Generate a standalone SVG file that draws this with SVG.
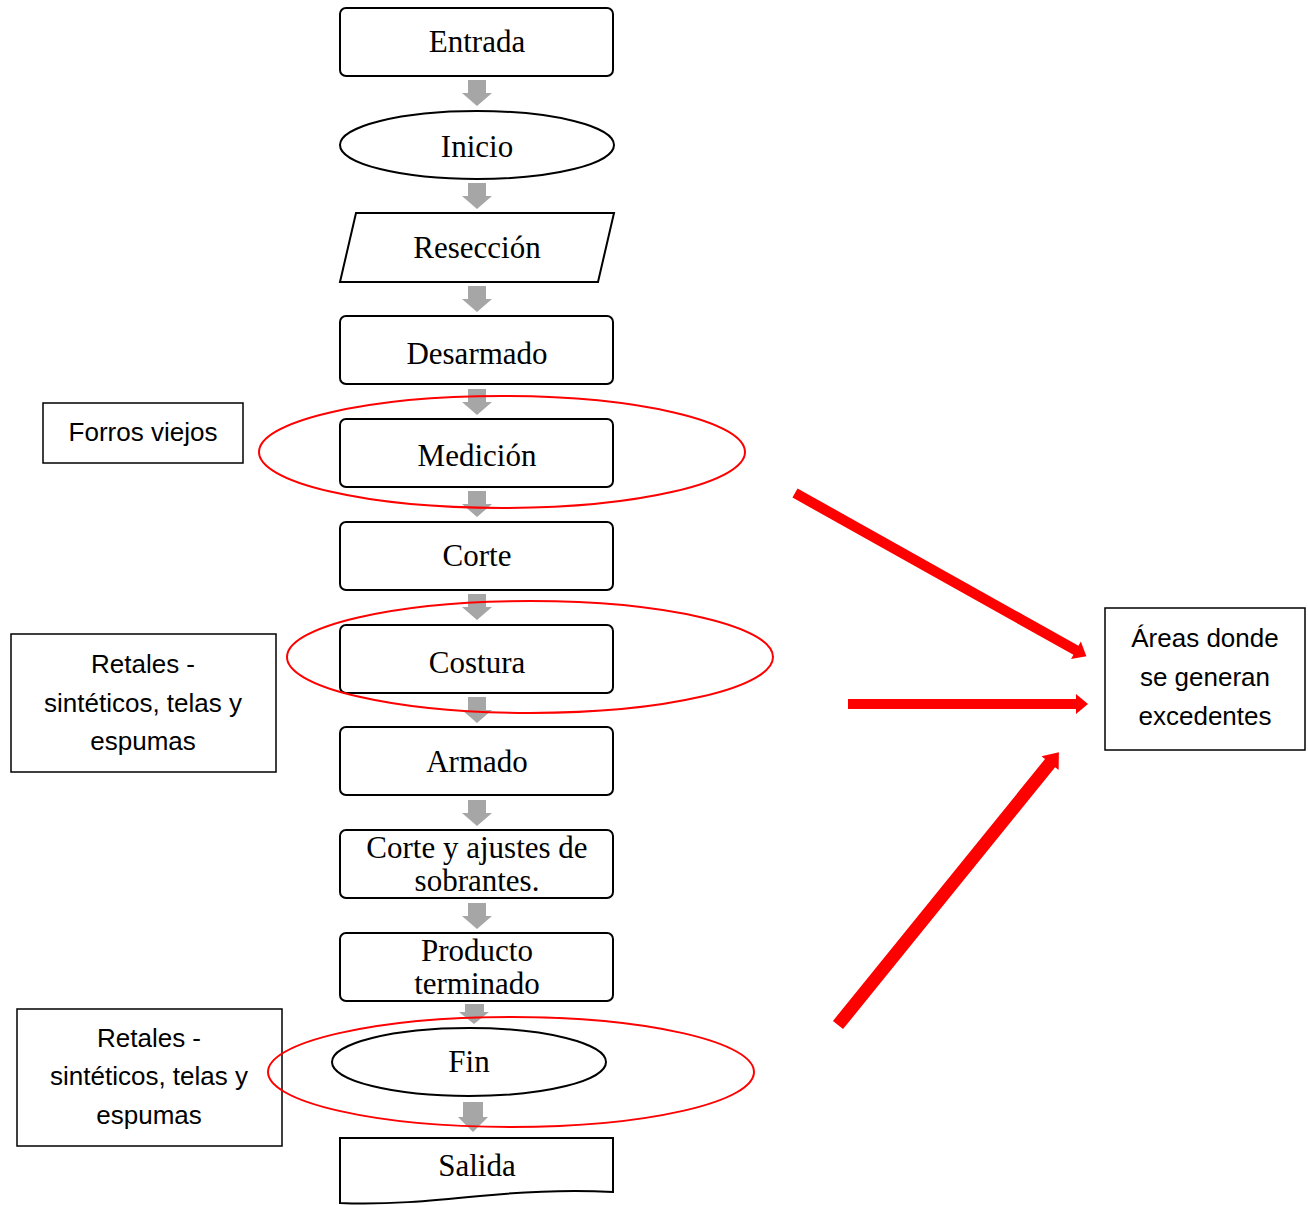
<svg xmlns="http://www.w3.org/2000/svg" width="1308" height="1205" viewBox="0 0 1308 1205">
<style>
.n{fill:#fff;stroke:#000;stroke-width:2}
.t{font-family:"Liberation Serif","Times New Roman",serif;font-size:31px;fill:#000;text-anchor:middle}
.s{font-family:"Liberation Sans",Arial,sans-serif;font-size:26px;fill:#000;text-anchor:middle}
.b{fill:#fff;stroke:#000;stroke-width:1.5}
.g{fill:#a6a6a6}
.r{fill:none;stroke:#ff0000;stroke-width:2}
.ra{fill:#ff0000}
</style>
<defs>
<polygon id="ga" points="-9,0 9,0 9,13 15,13 0,26 -15,13 -9,13"/>
</defs>
<g id="forros"><rect class="b" x="43" y="403" width="200" height="60"/><text class="s" x="143" y="441">Forros viejos</text></g>
<g id="retales1"><rect class="b" x="11" y="634" width="265" height="138"/><text class="s" x="143" y="673">Retales -</text><text class="s" x="143" y="712">sintéticos, telas y</text><text class="s" x="143" y="750">espumas</text></g>
<g id="retales2"><rect class="b" x="17" y="1009" width="265" height="137"/><text class="s" x="149" y="1047">Retales -</text><text class="s" x="149" y="1085">sintéticos, telas y</text><text class="s" x="149" y="1124">espumas</text></g>
<g id="areas"><rect class="b" x="1105" y="608" width="200" height="142"/><text class="s" x="1205" y="647">Áreas donde</text><text class="s" x="1205" y="686">se generan</text><text class="s" x="1205" y="725">excedentes</text></g>
<g id="entrada"><rect class="n" x="340" y="8" width="273" height="68" rx="6"/><text class="t" x="477" y="52">Entrada</text></g>
<g id="inicio"><ellipse class="n" cx="477" cy="145" rx="137" ry="34"/><text class="t" x="477" y="157">Inicio</text></g>
<g id="reseccion"><polygon class="n" points="356,213 614,213 598,282 340,282"/><text class="t" x="477" y="258">Resección</text></g>
<g id="desarmado"><rect class="n" x="340" y="316" width="273" height="68" rx="6"/><text class="t" x="477" y="364">Desarmado</text></g>
<g id="medicion"><rect class="n" x="340" y="419" width="273" height="68" rx="6"/><text class="t" x="477" y="466">Medición</text></g>
<g id="corte"><rect class="n" x="340" y="522" width="273" height="68" rx="6"/><text class="t" x="477" y="566">Corte</text></g>
<g id="costura"><rect class="n" x="340" y="625" width="273" height="68" rx="6"/><text class="t" x="477" y="673">Costura</text></g>
<g id="armado"><rect class="n" x="340" y="727" width="273" height="68" rx="6"/><text class="t" x="477" y="772">Armado</text></g>
<g id="corte-ajustes"><rect class="n" x="340" y="830" width="273" height="68" rx="6"/><text class="t" x="477" y="858">Corte y ajustes de</text><text class="t" x="477" y="891">sobrantes.</text></g>
<g id="producto"><rect class="n" x="340" y="933" width="273" height="68" rx="6"/><text class="t" x="477" y="961">Producto</text><text class="t" x="477" y="994">terminado</text></g>
<g id="fin"><ellipse class="n" cx="469" cy="1062" rx="137" ry="34"/><text class="t" x="469" y="1072">Fin</text></g>
<g id="salida"><path class="n" d="M340,1138 H613 V1192 C575,1190 530,1191 480,1196 C430,1201 385,1205 340,1203 Z"/><text class="t" x="477" y="1176">Salida</text></g>
<g id="connectors">
<use href="#ga" class="g" x="477" y="80"/>
<use href="#ga" class="g" x="477" y="183"/>
<use href="#ga" class="g" x="477" y="286"/>
<use href="#ga" class="g" x="477" y="389"/>
<use href="#ga" class="g" x="477" y="491"/>
<use href="#ga" class="g" x="477" y="594"/>
<use href="#ga" class="g" x="477" y="697"/>
<use href="#ga" class="g" x="477" y="800"/>
<use href="#ga" class="g" x="477" y="903"/>
<polygon class="g" points="465,1004 484,1004 484,1012 489,1012 474,1024 459,1012 465,1012"/>
<polygon class="g" points="463,1102 483,1102 483,1117 488,1117 473,1132 458,1117 463,1117"/>
<path class="ra" transform="translate(795,493) rotate(29.25)" d="M0,-5.2 H322 V-10 L334,0 L322,10 V5.2 H0 Z"/>
<path class="ra" transform="translate(848,704)" d="M0,-5 H228 V-10 L240,0 L228,10 V5 H0 Z"/>
<path class="ra" transform="translate(838,1025) rotate(-51)" d="M0,-6.5 H337 V-11 L351,0 L337,11 V6.5 H0 Z"/>
</g>
<g id="red-ellipses">
<ellipse class="r" cx="502" cy="452" rx="243" ry="56"/>
<ellipse class="r" cx="530" cy="657" rx="243" ry="56"/>
<ellipse class="r" cx="511" cy="1072" rx="243" ry="55"/>
</g>
</svg>
